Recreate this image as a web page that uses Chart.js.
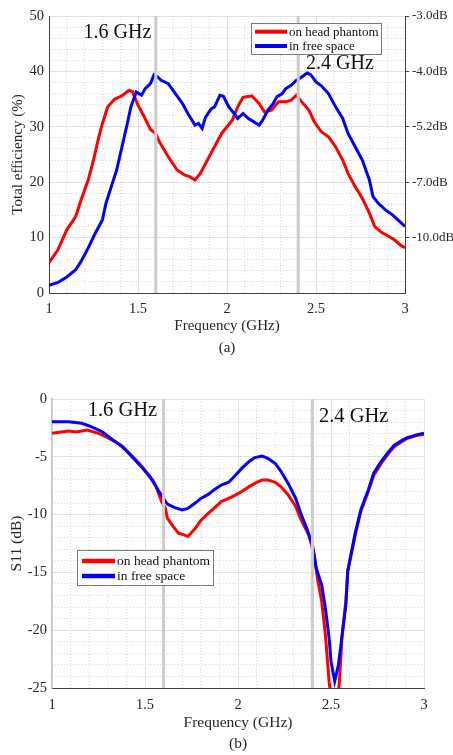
<!DOCTYPE html>
<html><head><meta charset="utf-8">
<script src="https://cdn.jsdelivr.net/npm/chart.js@4/dist/chart.umd.min.js"></script>
<style>
html,body{margin:0;padding:0;background:#fff;width:453px;height:755px;overflow:hidden}
canvas{position:absolute;left:0}
#ca{top:0}
#cb{top:375px}
</style></head><body>
<canvas id="ca" width="453" height="370"></canvas>
<canvas id="cb" width="453" height="380"></canvas>
<script>
// ---------- DATA ----------
const seriesNames = ['on head phantom', 'in free space'];
const markerFreqs = [1.6, 2.4];
const freqTicks = [1, 1.5, 2, 2.5, 3];
const freqTickLabels = ['1', '1.5', '2', '2.5', '3'];
const effTicks = [0, 10, 20, 30, 40, 50];
const effDbTickValues = [10, 20, 30, 40, 50];
const effDbTickLabels = ['-10.0dB', '-7.0dB', '-5.2dB', '-4.0dB', '-3.0dB'];
const s11Ticks = [0, -5, -10, -15, -20, -25];

// (a) Total efficiency (%)
const effHeadFreq = [1.00,1.05,1.10,1.15,1.18,1.22,1.25,1.28,1.30,1.33,1.37,1.41,1.45,1.47,1.50,1.54,1.57,1.60,1.62,1.67,1.72,1.76,1.79,1.82,1.85,1.90,1.93,1.97,2.00,2.03,2.06,2.09,2.14,2.18,2.21,2.25,2.29,2.33,2.36,2.39,2.42,2.46,2.49,2.53,2.57,2.61,2.65,2.68,2.72,2.76,2.80,2.83,2.87,2.91,2.94,2.98,3.00];
const effHead     = [5.5,7.8,11.4,13.8,16.8,20.4,24.0,28.2,30.6,33.6,35.0,35.6,36.6,36.3,33.9,31.5,29.5,28.8,27.3,24.6,22.2,21.3,21.0,20.4,21.6,24.6,26.4,28.8,30.0,31.2,33.6,35.3,35.6,34.2,32.7,33.0,34.5,34.5,34.8,35.7,34.5,33.0,30.9,29.1,28.2,26.4,24.0,21.6,19.2,17.1,14.4,12.0,10.9,10.2,9.6,8.5,8.2];
const effFreeFreq = [1.00,1.05,1.10,1.15,1.18,1.22,1.26,1.30,1.32,1.35,1.38,1.41,1.44,1.46,1.49,1.52,1.54,1.57,1.59,1.61,1.63,1.67,1.71,1.75,1.78,1.82,1.84,1.86,1.88,1.91,1.93,1.96,1.98,2.01,2.04,2.06,2.09,2.12,2.15,2.18,2.20,2.23,2.26,2.28,2.31,2.33,2.36,2.39,2.42,2.45,2.47,2.50,2.53,2.57,2.61,2.65,2.68,2.72,2.76,2.80,2.82,2.85,2.89,2.93,2.96,3.00];
const effFree     = [1.4,1.9,2.9,4.2,5.7,8.1,10.8,13.2,16.2,19.2,22.2,26.4,30.6,33.6,36.3,35.7,36.9,37.8,39.4,39.0,38.4,37.8,36.0,34.2,32.4,30.3,30.6,29.7,31.8,33.2,33.6,35.7,35.5,33.6,32.4,31.5,32.4,31.5,30.9,30.3,31.2,33.0,34.2,35.4,36.0,36.9,37.5,38.4,39.0,39.7,39.4,38.1,37.4,36.0,33.6,31.5,28.8,26.4,24.0,20.4,17.4,16.2,15.0,14.1,13.2,12.0];

// (b) S11 (dB)
const s11HeadFreq = [1.00,1.05,1.09,1.13,1.16,1.19,1.25,1.30,1.36,1.41,1.47,1.52,1.56,1.59,1.61,1.62,1.65,1.68,1.71,1.73,1.77,1.80,1.84,1.87,1.91,1.95,1.98,2.02,2.06,2.09,2.13,2.16,2.20,2.23,2.27,2.31,2.34,2.38,2.41,2.43,2.45,2.47,2.49,2.51,2.53,2.545,2.56,2.58,2.59,2.63,2.66,2.70,2.73,2.77,2.81,2.84,2.88,2.91,2.96,3.00];
const s11Head     = [-2.97,-2.85,-2.77,-2.85,-2.77,-2.68,-2.97,-3.35,-3.92,-4.6,-5.57,-6.57,-7.6,-8.9,-9.45,-10.3,-11.0,-11.6,-11.76,-11.9,-11.2,-10.5,-9.9,-9.46,-8.88,-8.6,-8.36,-8.0,-7.58,-7.3,-7.0,-7.0,-7.2,-7.58,-8.3,-9.3,-10.47,-11.76,-13.5,-15.8,-17.5,-20.4,-24.5,-27.0,-27.0,-24.5,-20.4,-17.5,-14.9,-11.8,-9.75,-8.0,-6.6,-5.57,-4.7,-4.12,-3.7,-3.4,-3.17,-3.05];
const s11FreeFreq = [1.00,1.05,1.09,1.16,1.21,1.27,1.32,1.38,1.43,1.48,1.54,1.57,1.60,1.62,1.66,1.70,1.73,1.77,1.80,1.84,1.87,1.91,1.95,1.98,2.02,2.06,2.09,2.13,2.16,2.20,2.23,2.27,2.31,2.34,2.37,2.40,2.42,2.45,2.47,2.49,2.50,2.52,2.54,2.56,2.58,2.59,2.63,2.66,2.70,2.73,2.77,2.81,2.84,2.88,2.91,2.96,3.00];
const s11Free     = [-1.96,-1.96,-1.96,-2.1,-2.39,-2.83,-3.46,-4.12,-5.0,-5.85,-7.0,-7.87,-8.6,-9.1,-9.4,-9.6,-9.46,-9.0,-8.6,-8.25,-7.87,-7.44,-7.2,-6.7,-6.0,-5.4,-5.07,-4.93,-5.13,-5.57,-6.23,-7.3,-8.6,-10.0,-11.2,-12.6,-14.6,-16.1,-18.1,-20.7,-22.7,-24.4,-23.0,-20.4,-17.8,-14.9,-11.6,-9.6,-7.9,-6.4,-5.4,-4.56,-4.0,-3.6,-3.35,-3.1,-2.97];

// ---------- STYLE ----------
const FONT = "'Liberation Serif','Times New Roman',serif";
const TXT = '#262626';
const RED = '#ff0000', BLUE = '#0000ff';
const MAJOR_GRID = '#e2e2e2', MINOR_GRID = '#dadada';

const pts = (xs, ys) => xs.map((x, i) => ({x, y: ys[i]}));
const setTicks = vals => s => { s.ticks = vals.map(v => ({value: v})); };
function range(a, b, step) { const out = []; const n = Math.round((b - a) / step); for (let i = 0; i <= n; i++) out.push(+(a + i * step).toFixed(6)); return out; }
const isMult = (v, m) => Math.abs(v / m - Math.round(v / m)) < 1e-6;
const freqLabel = v => { const i = freqTicks.indexOf(v); return i >= 0 ? freqTickLabels[i] : ''; };

const decoPlugin = {
  id: 'deco',
  afterDatasetsDraw(chart, args, o) {
    const {ctx, chartArea: a, scales} = chart;
    const xs = scales.x, ys = scales.y;
    ctx.save();
    ctx.beginPath(); ctx.rect(a.left, a.top, a.right - a.left, a.bottom - a.top); ctx.clip();
    ctx.strokeStyle = '#cccccc'; ctx.lineWidth = 3;
    markerFreqs.forEach(m => { const px = xs.getPixelForValue(m); ctx.beginPath(); ctx.moveTo(px, a.top); ctx.lineTo(px, a.bottom); ctx.stroke(); });
    ctx.restore();
    ctx.save();
    ctx.fillStyle = '#111'; ctx.font = o.labelFont; ctx.textBaseline = 'middle';
    o.labels.forEach(l => { ctx.textAlign = l.align; ctx.fillText(l.text, xs.getPixelForValue(l.x), ys.getPixelForValue(l.y)); });
    const L = o.legend;
    const bx = Math.round(a.left + L.dx), by = Math.round(a.top + L.dy);
    ctx.fillStyle = '#fff'; ctx.fillRect(bx, by, L.w, L.h);
    ctx.strokeStyle = '#7a7a7a'; ctx.lineWidth = 1; ctx.strokeRect(bx + 0.5, by + 0.5, L.w, L.h);
    ctx.font = L.font; ctx.textAlign = 'left'; ctx.textBaseline = 'middle';
    chart.data.datasets.forEach((d, i) => {
      const y = by + L.rowY[i];
      ctx.strokeStyle = d.borderColor; ctx.lineWidth = L.lineWidth;
      ctx.beginPath(); ctx.moveTo(bx + L.x0, y); ctx.lineTo(bx + L.x1, y); ctx.stroke();
      ctx.fillStyle = '#111'; ctx.fillText(d.label, bx + L.tx, y + 0.5);
    });
    ctx.restore();
  }
};

function minorAxis(pos, min, max, step, majorStep) {
  const vals = range(min, max, step);
  return {
    type: 'linear', position: pos, min, max, display: true,
    afterBuildTicks: setTicks(vals),
    ticks: {display: false},
    grid: {drawTicks: false, color: c => isMult(c.tick.value, majorStep) ? 'rgba(0,0,0,0)' : MINOR_GRID},
    border: {display: false, dash: [1, 2]},
    afterFit(s) { if (s.isHorizontal()) s.height = 0; else s.width = 0; }
  };
}

const lineDs = (label, data, color, order) => ({label, data, borderColor: color, backgroundColor: color, borderWidth: 3, pointRadius: 0, tension: 0, fill: false, order, xAxisID: 'x', yAxisID: 'y'});

// ---------- CHART (a) ----------
new Chart(document.getElementById('ca'), {
  type: 'line',
  data: {datasets: [
    lineDs(seriesNames[0], pts(effHeadFreq, effHead), RED, 2),
    lineDs(seriesNames[1], pts(effFreeFreq, effFree), BLUE, 1)
  ]},
  options: {
    responsive: false, animation: false, devicePixelRatio: 1,
    layout: {padding: {top: 16, left: 0, right: 0, bottom: 0}},
    plugins: {
      legend: {display: false}, tooltip: {enabled: false},
      deco: {
        labelFont: "20px " + FONT,
        labels: [{text: '1.6 GHz', x: 1.575, y: 47, align: 'right'}, {text: '2.4 GHz', x: 2.444, y: 41.3, align: 'left'}],
        legend: {dx: 202, dy: 7, w: 130, h: 31, x0: 4, x1: 36, tx: 38, rowY: [8.7, 23], lineWidth: 4, font: "13px " + FONT}
      }
    },
    scales: {
      x: {
        type: 'linear', position: 'bottom', min: 1, max: 3,
        afterBuildTicks: setTicks(freqTicks),
        ticks: {padding: 7, color: TXT, font: {family: FONT, size: 14.5}, maxRotation: 0, callback: freqLabel},
        grid: {color: MAJOR_GRID, drawTicks: false},
        border: {color: '#404040', width: 1},
        title: {display: true, text: ['Frequency (GHz)', '(a)'], color: TXT, font: {family: FONT, size: 15, lineHeight: 1.45}, padding: {top: 0, bottom: 11}},
        afterFit(s) { s.height = 77; }
      },
      xm: minorAxis('bottom', 1, 3, 0.1, 0.5),
      y: {
        type: 'linear', position: 'left', min: 0, max: 50,
        afterBuildTicks: setTicks(effTicks),
        ticks: {padding: 5, color: TXT, font: {family: FONT, size: 14.5}},
        grid: {color: MAJOR_GRID, drawTicks: false},
        border: {color: '#404040', width: 1},
        title: {display: true, text: 'Total efficiency (%)', color: TXT, font: {family: FONT, size: 15}, padding: {top: 9, bottom: 0}},
        afterFit(s) { s.width = 49; }
      },
      ym: minorAxis('left', 0, 50, 2, 10),
      y2: {
        type: 'linear', position: 'right', min: 0, max: 50,
        afterBuildTicks: setTicks(effTicks),
        ticks: {padding: 3, color: TXT, font: {family: FONT, size: 13}, callback: v => { const i = effDbTickValues.indexOf(v); return i >= 0 ? effDbTickLabels[i] : ''; }},
        grid: {drawOnChartArea: false, drawTicks: true, tickLength: 4, tickColor: c => c.tick.value === 0 ? 'rgba(0,0,0,0)' : '#404040'},
        border: {color: '#404040', width: 1},
        afterFit(s) { s.width = 48; }
      }
    }
  },
  plugins: [decoPlugin]
});

// ---------- CHART (b) ----------
new Chart(document.getElementById('cb'), {
  type: 'line',
  data: {datasets: [
    lineDs(seriesNames[0], pts(s11HeadFreq, s11Head), RED, 2),
    lineDs(seriesNames[1], pts(s11FreeFreq, s11Free), BLUE, 1)
  ]},
  options: {
    responsive: false, animation: false, devicePixelRatio: 1,
    layout: {padding: {top: 24, left: 0, right: 29, bottom: 0}},
    plugins: {
      legend: {display: false}, tooltip: {enabled: false},
      deco: {
        labelFont: "20.5px " + FONT,
        labels: [{text: '1.6 GHz', x: 1.565, y: -1.04, align: 'right'}, {text: '2.4 GHz', x: 2.435, y: -1.53, align: 'left'}],
        legend: {dx: 25, dy: 151, w: 136, h: 35, x0: 5, x1: 38, tx: 40, rowY: [11, 26], lineWidth: 4.5, font: "13.5px " + FONT}
      }
    },
    scales: {
      x: {
        type: 'linear', position: 'bottom', min: 1, max: 3,
        afterBuildTicks: setTicks(freqTicks),
        ticks: {padding: 8, color: TXT, font: {family: FONT, size: 14.5}, maxRotation: 0, callback: freqLabel},
        grid: {color: MAJOR_GRID, drawTicks: false},
        border: {color: '#404040', width: 1},
        title: {display: true, text: ['Frequency (GHz)', '(b)'], color: TXT, font: {family: FONT, size: 15.5, lineHeight: 1.4}, padding: {top: 0, bottom: 0}},
        afterFit(s) { s.height = 67; }
      },
      xm: minorAxis('bottom', 1, 3, 0.1, 0.5),
      y: {
        type: 'linear', position: 'left', min: -25, max: 0,
        afterBuildTicks: setTicks(s11Ticks),
        ticks: {padding: 5, color: TXT, font: {family: FONT, size: 14.5}},
        grid: {color: MAJOR_GRID, drawTicks: false},
        border: {color: '#c4c4c4', width: 1.5},
        title: {display: true, text: 'S11 (dB)', color: TXT, font: {family: FONT, size: 15.5}, padding: {top: 8, bottom: 0}},
        afterFit(s) { s.width = 52; }
      },
      ym: minorAxis('left', -25, 0, 1, 5)
    }
  },
  plugins: [decoPlugin]
});
</script>
</body></html>
